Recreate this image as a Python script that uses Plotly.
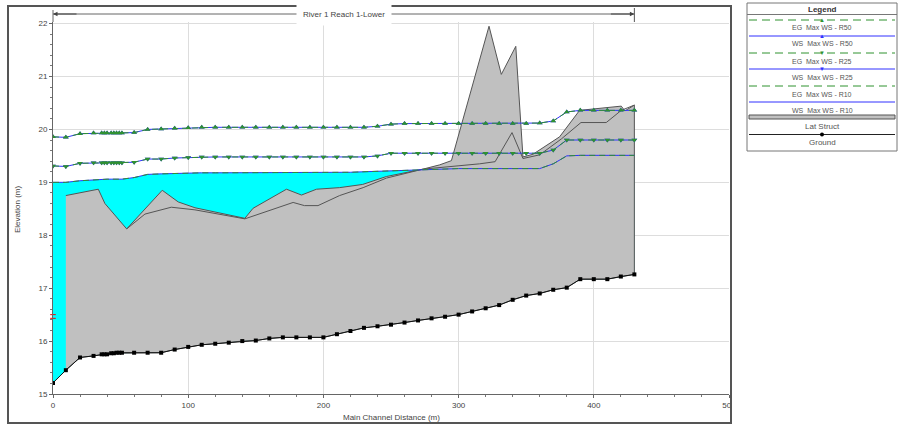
import plotly.graph_objects as go

# ---------------- data ----------------
stations = [0, 9.5, 20, 30, 36, 38, 40, 43, 45, 47, 49, 51, 60, 70, 80, 90, 100, 110, 120, 130,
            140, 150, 160, 170, 180, 190, 200, 210, 220, 230, 240, 250, 260, 270, 280, 290, 300,
            310, 320, 330, 340, 350, 360, 370, 380, 390, 400, 410, 420, 430]

ground = [15.21, 15.45, 15.69, 15.72, 15.75, 15.75, 15.75, 15.77, 15.77, 15.78, 15.78, 15.78,
          15.78, 15.78, 15.78, 15.84, 15.89, 15.93, 15.95, 15.97, 16.00, 16.01, 16.05, 16.07,
          16.07, 16.07, 16.07, 16.13, 16.19, 16.25, 16.28, 16.31, 16.35, 16.39, 16.43, 16.46,
          16.50, 16.56, 16.62, 16.68, 16.78, 16.86, 16.90, 16.97, 17.01, 17.17, 17.17, 17.17,
          17.22, 17.26]

ws_r10 = [19.00, 19.00, 19.03, 19.05, 19.06, 19.06, 19.06, 19.06, 19.06, 19.06, 19.06, 19.06,
          19.09, 19.15, 19.16, 19.17, 19.17, 19.18, 19.18, 19.18, 19.18, 19.18, 19.18, 19.18,
          19.18, 19.18, 19.18, 19.19, 19.19, 19.20, 19.21, 19.22, 19.23, 19.24, 19.25, 19.26,
          19.26, 19.26, 19.26, 19.26, 19.26, 19.26, 19.26, 19.35, 19.50, 19.51, 19.51, 19.51,
          19.51, 19.51]
eg_r10 = [19.00, 19.00, 19.03, 19.05, 19.06, 19.06, 19.06, 19.06, 19.06, 19.06, 19.06, 19.06,
          19.09, 19.15, 19.16, 19.17, 19.17, 19.18, 19.18, 19.18, 19.18, 19.18, 19.18, 19.18,
          19.18, 19.18, 19.18, 19.19, 19.19, 19.20, 19.21, 19.22, 19.23, 19.24, 19.25, 19.26,
          19.26, 19.26, 19.26, 19.26, 19.26, 19.26, 19.26, 19.35, 19.50, 19.51, 19.51, 19.51,
          19.51, 19.51]

ws_r25 = [19.31, 19.30, 19.36, 19.37, 19.37, 19.37, 19.37, 19.37, 19.37, 19.37, 19.37, 19.37,
          19.38, 19.44, 19.44, 19.46, 19.47, 19.48, 19.48, 19.48, 19.48, 19.48, 19.48, 19.48,
          19.48, 19.48, 19.48, 19.48, 19.48, 19.48, 19.50, 19.55, 19.55, 19.55, 19.55, 19.55,
          19.55, 19.55, 19.55, 19.55, 19.55, 19.55, 19.55, 19.61, 19.80, 19.80, 19.80, 19.80,
          19.80, 19.80]
eg_r25 = [19.31, 19.30, 19.36, 19.37, 19.37, 19.37, 19.37, 19.37, 19.37, 19.37, 19.37, 19.37,
          19.38, 19.44, 19.44, 19.46, 19.47, 19.48, 19.48, 19.48, 19.48, 19.48, 19.48, 19.48,
          19.48, 19.48, 19.48, 19.48, 19.48, 19.48, 19.50, 19.55, 19.55, 19.55, 19.55, 19.55,
          19.55, 19.55, 19.55, 19.55, 19.55, 19.55, 19.55, 19.61, 19.80, 19.80, 19.80, 19.80,
          19.80, 19.80]

ws_r50 = [19.86, 19.85, 19.92, 19.93, 19.93, 19.93, 19.93, 19.93, 19.93, 19.93, 19.93, 19.93,
          19.94, 20.00, 20.01, 20.02, 20.03, 20.04, 20.04, 20.04, 20.04, 20.04, 20.04, 20.04,
          20.04, 20.04, 20.04, 20.04, 20.04, 20.04, 20.06, 20.10, 20.11, 20.11, 20.11, 20.11,
          20.11, 20.11, 20.11, 20.11, 20.11, 20.11, 20.12, 20.16, 20.33, 20.36, 20.36, 20.36,
          20.36, 20.36]
eg_r50 = [19.86, 19.85, 19.92, 19.93, 19.93, 19.93, 19.93, 19.93, 19.93, 19.93, 19.93, 19.93,
          19.94, 20.00, 20.01, 20.02, 20.03, 20.04, 20.04, 20.04, 20.04, 20.04, 20.04, 20.04,
          20.04, 20.04, 20.04, 20.04, 20.04, 20.04, 20.06, 20.10, 20.11, 20.11, 20.11, 20.11,
          20.11, 20.11, 20.11, 20.11, 20.11, 20.11, 20.12, 20.16, 20.33, 20.36, 20.36, 20.36,
          20.36, 20.36]

lat_x = [9.5, 33.5, 38.4, 54.5, 80.8, 92.6, 105, 141.9, 148, 172.7, 183.8, 194.9, 212, 229,
         246.6, 273.7, 286, 294.7, 322.5, 331.6, 342.3, 347.6, 355, 374.7, 389.5, 420.3, 423, 430]
lat_top = [18.75, 18.87, 18.60, 18.12, 18.85, 18.63, 18.52, 18.32, 18.51, 18.87, 18.76, 18.87,
           18.90, 18.96, 19.11, 19.25, 19.33, 19.41, 21.95, 21.04, 21.57, 19.48, 19.53, 19.86,
           20.36, 20.44, 20.35, 20.46]

inner_x = [54.5, 68, 87.5, 105, 141.9, 153, 177.6, 186, 196, 212, 229.4, 246.6, 273.7, 315.6,
           327, 339.5, 347.6, 360, 376, 390.5, 409.2, 420.3, 430]
inner_y = [18.12, 18.40, 18.53, 18.48, 18.31, 18.41, 18.62, 18.56, 18.56, 18.75, 18.90, 19.08,
           19.25, 19.35, 19.39, 19.94, 19.45, 19.52, 19.82, 20.13, 20.13, 20.36, 20.46]

red_marks_x = [0, 0]
red_marks_y = [16.43, 16.50]

x_ticks = [0, 100, 200, 300, 400, 500]
y_ticks = [15, 16, 17, 18, 19, 20, 21, 22]

reach_label = "River 1 Reach 1-Lower"
reach_start, reach_end = 0, 430

legend_labels = ["EG  Max WS - R50", "WS  Max WS - R50", "EG  Max WS - R25",
                 "WS  Max WS - R25", "EG  Max WS - R10", "WS  Max WS - R10",
                 "Lat Struct", "Ground"]

# ---------------- styles ----------------
CYAN = "#00ffff"
GRAY = "#c0c0c0"
OUT = "#555555"
BLUE = "#3030ff"
GREEN = "#2f922f"
FONT = "Liberation Sans, Arial, sans-serif"

fig = go.Figure()

# water fill (ground -> WS R10)
fig.add_trace(go.Scatter(x=stations + stations[::-1], y=ws_r10 + ground[::-1],
                         fill="toself", fillcolor=CYAN, mode="lines",
                         line=dict(width=0, color=CYAN), hoverinfo="skip"))

# lateral structure fill
idx = [i for i, s in enumerate(stations) if s >= lat_x[0]]
gx = lat_x + [stations[i] for i in reversed(idx)]
gy = lat_top + [ground[i] for i in reversed(idx)]
fig.add_trace(go.Scatter(x=gx, y=gy, fill="toself", fillcolor=GRAY, mode="lines",
                         line=dict(width=1, color=OUT), hoverinfo="skip"))
fig.add_trace(go.Scatter(x=inner_x, y=inner_y, mode="lines",
                         line=dict(width=1, color=OUT), hoverinfo="skip"))

# R10
fig.add_trace(go.Scatter(x=stations, y=ws_r10, mode="lines", line=dict(width=1, color=BLUE)))
fig.add_trace(go.Scatter(x=stations, y=eg_r10, mode="lines",
                         line=dict(width=1, color=GREEN, dash="6px,4px")))
# R25
fig.add_trace(go.Scatter(x=stations, y=ws_r25, mode="lines+markers", line=dict(width=1, color=BLUE),
                         marker=dict(symbol="triangle-down", size=5, color=BLUE)))
fig.add_trace(go.Scatter(x=stations, y=eg_r25, mode="lines+markers",
                         line=dict(width=1, color=GREEN, dash="6px,4px"),
                         marker=dict(symbol="triangle-down", size=5, color=GREEN)))
# R50
fig.add_trace(go.Scatter(x=stations, y=ws_r50, mode="lines+markers", line=dict(width=1, color=BLUE),
                         marker=dict(symbol="triangle-up", size=5, color=BLUE)))
fig.add_trace(go.Scatter(x=stations, y=eg_r50, mode="lines+markers",
                         line=dict(width=1, color=GREEN, dash="6px,4px"),
                         marker=dict(symbol="triangle-up", size=5, color=GREEN)))
# ground
fig.add_trace(go.Scatter(x=stations, y=ground, mode="lines+markers",
                         line=dict(width=1, color="#111111"),
                         marker=dict(symbol="square", size=4, color="#000000")))
# red marks
fig.add_trace(go.Scatter(x=red_marks_x, y=red_marks_y, mode="markers", cliponaxis=False,
                         marker=dict(symbol="line-ew", size=4, line=dict(width=1, color="red"))))

# ---------------- layout ----------------
L, R, T, B, W, H = 53, 170, 22, 31, 899, 425
PW, PH = W - L - R, H - T - B


def xp(px):
    return (px - L) / PW


def yp(py):
    return 1 - (py - T) / PH


fig.update_layout(
    width=W, height=H, margin=dict(l=L, r=R, t=T, b=B),
    plot_bgcolor="white", paper_bgcolor="white", showlegend=False, hovermode=False,
    font=dict(family=FONT, size=8, color="#444444"),
    xaxis=dict(range=[0, 500], tickvals=x_ticks, showgrid=True, gridcolor="#dddddd",
               zeroline=False, showline=True, linecolor="#666666", linewidth=1,
               ticks="outside", ticklen=3, tickcolor="#666666", tickfont=dict(size=8),
               minor=dict(tick0=0, dtick=20, ticks="outside", ticklen=2, tickcolor="#777777",
                          showgrid=False)),
    yaxis=dict(range=[15, 22.03], tickvals=y_ticks, showgrid=True, gridcolor="#dddddd",
               zeroline=False, showline=True, linecolor="#666666", linewidth=1,
               ticks="outside", ticklen=3, tickcolor="#666666", tickfont=dict(size=8),
               minor=dict(tick0=15, dtick=0.2, ticks="outside", ticklen=2, tickcolor="#777777",
                          showgrid=False)),
)

shapes = []
ann = []


def label(x, y, text, size=8, color="#444444", xref="paper", **kw):
    d = dict(x=x, y=y, xref=xref, yref="paper", text=text, showarrow=False,
             xanchor="center", yanchor="middle", font=dict(size=size, color=color))
    d.update(kw)
    ann.append(d)


# white patch cutting the "500" label as in the source
shapes.append(dict(type="rect", xref="paper", yref="paper", x0=xp(732), x1=xp(745),
                   y0=yp(424), y1=yp(395), fillcolor="white", line=dict(width=0), layer="above"))
# outer frame
shapes.append(dict(type="rect", xref="paper", yref="paper", x0=xp(8), x1=xp(731),
                   y0=yp(423), y1=yp(6), line=dict(color="#555555", width=2), layer="above"))

# reach band
shapes.append(dict(type="line", xref="paper", yref="paper", x0=0, x1=0, y0=yp(22), y1=yp(10),
                   line=dict(color="#666666", width=1)))
shapes.append(dict(type="line", xref="x", yref="paper", x0=reach_end, x1=reach_end,
                   y0=yp(22), y1=yp(8), line=dict(color="#555555", width=1)))
shapes.append(dict(type="line", xref="x", yref="paper", x0=reach_start, x1=reach_end,
                   y0=yp(14), y1=yp(14), line=dict(color="#666666", width=1)))
ann.append(dict(x=reach_start, y=yp(14), xref="x", yref="paper", ax=25, ay=0, text="",
                showarrow=True, arrowhead=2, arrowsize=0.9, arrowwidth=1, arrowcolor="#444444"))
ann.append(dict(x=reach_end, y=yp(14), xref="x", yref="paper", ax=-25, ay=0, text="",
                showarrow=True, arrowhead=2, arrowsize=0.9, arrowwidth=1, arrowcolor="#444444"))
label((reach_start + reach_end) / 2, yp(14), reach_label, xref="x", bgcolor="white", borderpad=6)

# axis titles
label(xp(17), yp(210), "Elevation (m)", textangle=-90)
label(xp(391), yp(417), "Main Channel Distance (m)")

# ---------------- custom legend ----------------
LX0, LX1, LXC = 747, 897, 822
shapes.append(dict(type="rect", xref="paper", yref="paper", x0=xp(LX0), x1=xp(LX1),
                   y0=yp(151), y1=yp(3), line=dict(color="#777777", width=1),
                   fillcolor="white", layer="above"))
shapes.append(dict(type="line", xref="paper", yref="paper", x0=xp(LX0), x1=xp(LX1),
                   y0=yp(14.5), y1=yp(14.5), line=dict(color="#777777", width=1), layer="above"))
label(xp(LXC), yp(9), "<b>Legend</b>", color="#333333")

sample_rows = [(20, GREEN, True, "▲"), (36, BLUE, False, "▲"), (53, GREEN, True, "▼"),
               (69, BLUE, False, "▼"), (86, GREEN, True, None), (102, BLUE, False, None)]
for py, col, dashed, sym in sample_rows:
    shapes.append(dict(type="line", xref="paper", yref="paper", x0=xp(LX0 + 2), x1=xp(LX1 - 2),
                       y0=yp(py), y1=yp(py), layer="above",
                       line=dict(color=col, width=1, dash="8px,5px" if dashed else "solid")))
    if sym:
        label(xp(LXC), yp(py), sym, size=6, color=col)

text_rows = [27.5, 44, 61, 77.5, 94, 110, 127, 143]
for py, lab in zip(text_rows, legend_labels):
    size = 7 if "Max" in lab else 8
    label(xp(LXC), yp(py), lab, size=size, color="#555555")

shapes.append(dict(type="rect", xref="paper", yref="paper", x0=xp(LX0 + 2), x1=xp(LX1 - 2),
                   y0=yp(119), y1=yp(115), fillcolor=GRAY, line=dict(color=OUT, width=1),
                   layer="above"))
shapes.append(dict(type="line", xref="paper", yref="paper", x0=xp(LX0 + 2), x1=xp(LX1 - 2),
                   y0=yp(134.5), y1=yp(134.5), line=dict(color="#222222", width=1), layer="above"))
shapes.append(dict(type="circle", xref="paper", yref="paper", x0=xp(LXC - 2), x1=xp(LXC + 2),
                   y0=yp(136.5), y1=yp(132.5), fillcolor="#000000", line=dict(width=0),
                   layer="above"))

fig.update_layout(shapes=shapes, annotations=ann)
fig.write_html("out.html", config={"displayModeBar": False},
               post_script="document.body.style.margin='0px';")
